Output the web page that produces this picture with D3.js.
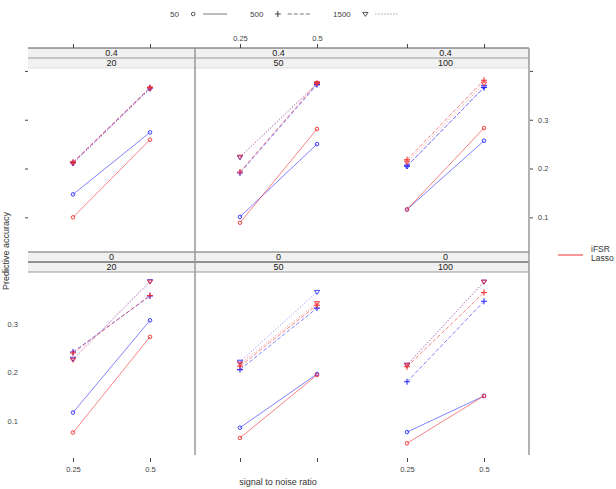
<!DOCTYPE html>
<html>
<head>
<meta charset="utf-8">
<script src="https://cdn.jsdelivr.net/npm/d3@7"></script>
<style>
  body { margin: 0; background: #fff; }
  svg { font-family: "Liberation Sans", Arial, sans-serif; }
</style>
</head>
<body>
<svg id="chart" width="616" height="489"></svg>
<script>
// data
const snr = [0.25, 0.5];
const sparsity = ["0.4", "0"];          // rows (upper strip)
const dims = ["20", "50", "100"];        // columns (lower strip)
const sampleSizes = ["50", "500", "1500"];
const methods = ["iFSR", "Lasso"];
const yTicks = [0.1, 0.2, 0.3, 0.4];
const yLabels = [0.1, 0.2, 0.3];

// panel order: 0.4/20, 0.4/50, 0.4/100, 0/20, 0/50, 0/100 ; values at snr 0.25, 0.5
const iFSR_50   = [[0.147, 0.274], [0.101, 0.250], [0.116, 0.257], [0.118, 0.307], [0.087, 0.197], [0.078, 0.152]];
const iFSR_500  = [[0.212, 0.365], [0.191, 0.372], [0.205, 0.366], [0.242, 0.357], [0.206, 0.332], [0.181, 0.346]];
const iFSR_1500 = [[0.210, 0.363], [0.223, 0.373], [0.204, 0.367], [0.228, 0.387], [0.222, 0.365], [0.216, 0.386]];
const Lasso_50   = [[0.100, 0.259], [0.089, 0.281], [0.116, 0.283], [0.077, 0.273], [0.066, 0.195], [0.055, 0.152]];
const Lasso_500  = [[0.213, 0.366], [0.193, 0.375], [0.218, 0.381], [0.240, 0.358], [0.213, 0.338], [0.212, 0.364]];
const Lasso_1500 = [[0.211, 0.364], [0.224, 0.375], [0.212, 0.374], [0.226, 0.386], [0.218, 0.342], [0.215, 0.386]];

const seriesTable = {
  iFSR: { "50": iFSR_50, "500": iFSR_500, "1500": iFSR_1500 },
  Lasso: { "50": Lasso_50, "500": Lasso_500, "1500": Lasso_1500 }
};

// layout
const svg = d3.select("#chart");
const left = 28, colW = 167, stripH = 10, panelH = 184;
const rowTop = [48, 252];
const right = left + colW * 3;

const colorOf = { iFSR: "#2b2bff", Lasso: "#f03030" };
const dashOf = { "50": null, "500": "4,2", "1500": "1,2" };

const x = d3.scaleLinear().domain([0.104, 0.646]).range([0, colW]);
const y = d3.scaleLinear().domain([0.029, 0.406]).range([panelH, 0]);

function symbol(g, n, px, py, color) {
  if (n === "50") {
    g.append("circle").attr("cx", px).attr("cy", py).attr("r", 1.8)
      .attr("fill", "none").attr("stroke", color).attr("stroke-width", 0.9);
  } else if (n === "500") {
    g.append("path").attr("d", `M${px - 3},${py}H${px + 3}M${px},${py - 3}V${py + 3}`)
      .attr("stroke", color).attr("stroke-width", 1.1);
  } else {
    g.append("path").attr("d", `M${px - 2.6},${py - 1.6}L${px + 2.6},${py - 1.6}L${px},${py + 2.4}Z`)
      .attr("fill", "none").attr("stroke", color).attr("stroke-width", 0.9);
  }
}

// strips and panels
sparsity.forEach((s, r) => {
  const top = rowTop[r];
  dims.forEach((d, c) => {
    const x0 = left + c * colW;
    [s, d].forEach((label, k) => {
      svg.append("rect").attr("x", x0).attr("y", top + k * stripH)
        .attr("width", colW).attr("height", stripH).attr("fill", "#f1f1f1");
      svg.append("text").attr("x", x0 + colW / 2).attr("y", top + k * stripH + stripH / 2 + 3.2)
        .attr("text-anchor", "middle").attr("font-size", 9).attr("fill", "#222").text(label);
    });

    const g = svg.append("g").attr("transform", `translate(${x0},${top + 2 * stripH})`);
    const p = r * 3 + c;
    methods.forEach(m => {
      sampleSizes.forEach(n => {
        const vals = seriesTable[m][n][p];
        const pts = snr.map((v, i) => [x(v), y(vals[i])]);
        g.append("path").attr("d", d3.line()(pts))
          .attr("fill", "none").attr("stroke", colorOf[m]).attr("stroke-width", 0.8)
          .attr("stroke-opacity", 0.75)
          .attr("stroke-dasharray", dashOf[n]);
        pts.forEach(pt => symbol(g, n, pt[0], pt[1], colorOf[m]));
      });
    });
  });
});

// strip / frame lines
const hLine = (yy, col, w) => svg.append("line").attr("x1", left).attr("x2", right)
  .attr("y1", yy).attr("y2", yy).attr("stroke", col).attr("stroke-width", w);
hLine(48, "#555", 1);
hLine(58, "#999", 1.2);
hLine(68, "#ddd", 1);
hLine(252, "#999", 1.5);
hLine(262, "#333", 1);
hLine(272, "#999", 1.2);
[left + colW, right].forEach(xx => {
  svg.append("line").attr("x1", xx).attr("x2", xx).attr("y1", 48).attr("y2", 455)
    .attr("stroke", "#999").attr("stroke-width", 1.5);
});

// y axes
const axisStyle = sel => {
  sel.select(".domain").remove();
  sel.selectAll("line").attr("stroke", "#444");
  sel.selectAll("text").attr("font-size", 7.5).attr("fill", "#444")
    .attr("font-family", "Liberation Sans, Arial, sans-serif");
};
// top row: left ticks only, right ticks + labels
svg.append("g").attr("transform", `translate(${left},${rowTop[0] + 2 * stripH})`)
  .call(d3.axisLeft(y).tickValues(yTicks).tickSize(3).tickFormat(""))
  .call(axisStyle);
svg.append("g").attr("transform", `translate(${right + 1},${rowTop[0] + 2 * stripH})`)
  .call(d3.axisRight(y).tickValues(yTicks).tickSize(3).tickPadding(5)
    .tickFormat(v => yLabels.includes(v) ? d3.format(".1f")(v) : ""))
  .call(axisStyle);
// bottom row: left labels
svg.append("g").attr("transform", `translate(${left - 2},${rowTop[1] + 2 * stripH})`)
  .call(d3.axisLeft(y).tickValues(yLabels).tickSize(0).tickPadding(8)
    .tickFormat(d3.format(".1f")))
  .call(axisStyle);

// x axes
dims.forEach((d, c) => {
  const x0 = left + c * colW;
  const topAx = d3.axisTop(x).tickValues(snr).tickSize(4).tickPadding(3)
    .tickFormat(c === 1 ? (v => String(v)) : "");
  svg.append("g").attr("transform", `translate(${x0},${rowTop[0]})`).call(topAx).call(axisStyle);
  const botAx = d3.axisBottom(x).tickValues(snr).tickSize(4).tickPadding(5)
    .tickFormat(c !== 1 ? (v => String(v)) : "");
  svg.append("g").attr("transform", `translate(${x0},${rowTop[1] + 2 * stripH + panelH + 2})`)
    .call(botAx).call(axisStyle);
});

// axis titles
svg.append("text").attr("x", 278).attr("y", 485).attr("text-anchor", "middle")
  .attr("font-size", 9).attr("fill", "#333").text("signal to noise ratio");
svg.append("text").attr("transform", "translate(8.5,251) rotate(-90)").attr("text-anchor", "middle")
  .attr("font-size", 9).attr("fill", "#333").text("Predictive accuracy");

// top key (sample sizes)
const keyX = [170, 250, 333];
sampleSizes.forEach((n, i) => {
  const kx = keyX[i];
  svg.append("text").attr("x", kx).attr("y", 17).attr("font-size", 8)
    .attr("fill", "#444").text(n);
  const sx = kx + (n.length * 4.6) + 14;
  const kg = svg.append("g");
  symbol(kg, n, sx, 14, "#444");
  kg.append("line").attr("x1", sx + 10).attr("x2", sx + 34).attr("y1", 14).attr("y2", 14)
    .attr("stroke", "#555").attr("stroke-width", 0.8).attr("stroke-dasharray", dashOf[n]);
});

// right key (methods)
svg.append("text").attr("x", 591).attr("y", 252).attr("font-size", 8.5).attr("fill", "#333").text(methods[0]);
svg.append("text").attr("x", 591).attr("y", 261).attr("font-size", 8.5).attr("fill", "#333").text(methods[1]);
svg.append("line").attr("x1", 558).attr("x2", 583).attr("y1", 255).attr("y2", 255)
  .attr("stroke", colorOf.Lasso).attr("stroke-width", 1);
</script>
</body>
</html>
